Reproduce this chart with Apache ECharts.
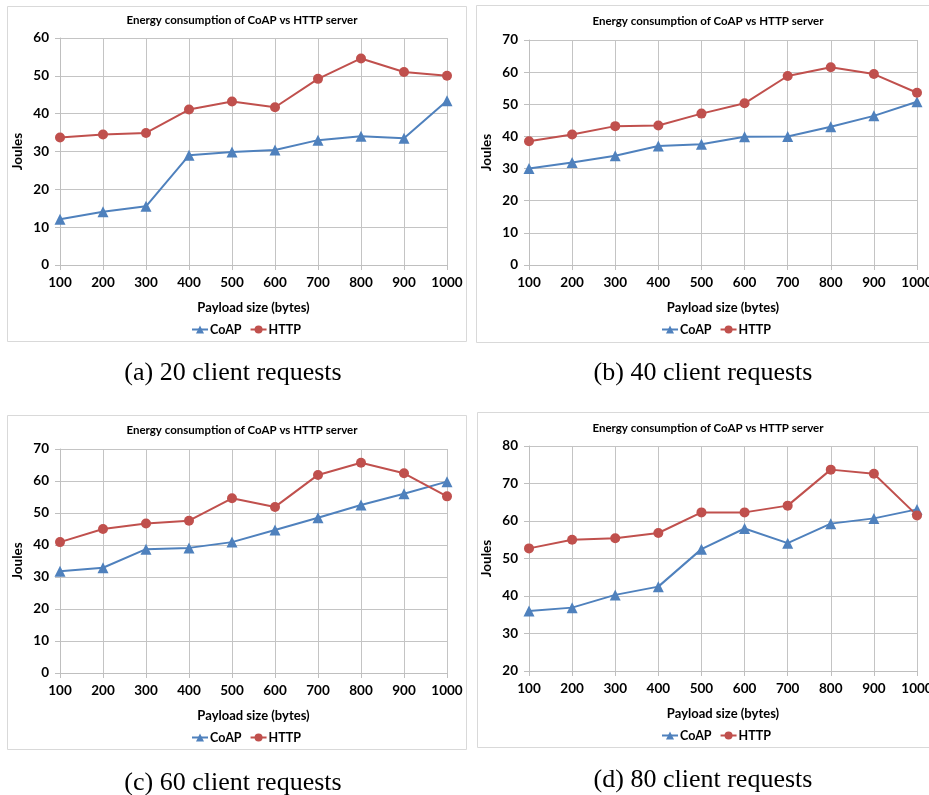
<!DOCTYPE html>
<html>
<head>
<meta charset="utf-8">
<script src="https://cdn.jsdelivr.net/npm/echarts@6/dist/echarts.min.js"></script>
<style>
html,body{margin:0;padding:0;background:#fff;}
#c{width:929px;height:795px;}
</style>
</head>
<body>
<div id="c"></div>
<script>
const categories = ['100','200','300','400','500','600','700','800','900','1000'];
const coapA = [12.1, 14.1, 15.5, 29.0, 29.9, 30.4, 33.0, 34.0, 33.5, 43.4];
const httpA = [33.7, 34.5, 34.9, 41.1, 43.2, 41.7, 49.2, 54.6, 51.0, 50.0];
const coapB = [30.0, 31.9, 34.0, 37.0, 37.6, 39.9, 40.0, 43.0, 46.4, 50.8];
const httpB = [38.5, 40.6, 43.2, 43.4, 47.1, 50.3, 58.8, 61.5, 59.4, 53.6];
const coapC = [31.8, 32.9, 38.7, 39.1, 40.9, 44.7, 48.5, 52.5, 56.0, 59.8];
const httpC = [40.9, 45.0, 46.7, 47.6, 54.6, 51.9, 61.9, 65.7, 62.4, 55.2];
const coapD = [36.0, 36.9, 40.3, 42.5, 52.5, 58.0, 54.1, 59.3, 60.7, 63.1];
const httpD = [52.7, 55.0, 55.4, 56.8, 62.3, 62.3, 64.1, 73.7, 72.6, 61.5];
const yMins = [0, 0, 0, 20];
const yMaxs = [60, 70, 70, 80];
const chartTitle = 'Energy consumption of CoAP vs HTTP server';
const xName = 'Payload size (bytes)';
const yName = 'Joules';
const seriesNames = ['CoAP', 'HTTP'];
const captions = ['(a) 20 client requests', '(b) 40 client requests', '(c) 60 client requests', '(d) 80 client requests'];

const coapData = [coapA, coapB, coapC, coapD];
const httpData = [httpA, httpB, httpC, httpD];

const FONT = 'Lato';
const BLUE = '#4F81BD';
const RED = '#C0504D';

const layout = [
  {box:[7,6,459,335], grid:{left:60, top:38, width:387, height:227}, titleX:237, titleY:9, legendY:318, legendX:186, capX:233, capY:373},
  {box:[476,5,460,337], grid:{left:529, top:40, width:388, height:225}, titleX:703, titleY:10, legendY:318, legendX:656, capX:703, capY:373},
  {box:[7,415,459,334], grid:{left:60, top:449, width:387, height:224}, titleX:237, titleY:419, legendY:726, legendX:186, capX:233, capY:783},
  {box:[477,412,459,335], grid:{left:529, top:446, width:388, height:225}, titleX:703, titleY:417, legendY:724, legendX:656, capX:703, capY:780}
];

const grids = [], xAxes = [], yAxes = [], series = [], titles = [], legends = [], graphics = [];

layout.forEach((L, i) => {
  graphics.push({
    type:'rect', z:-1, silent:true,
    shape:{x:L.box[0]+0.5, y:L.box[1]+0.5, width:L.box[2], height:L.box[3]},
    style:{fill:'#fff', stroke:'#d9d9d9', lineWidth:1}
  });
  graphics.push({
    type:'text', silent:true,
    style:{x:L.capX, y:L.capY, text:captions[i], fill:'#000', font:'26px "Liberation Serif"', align:'center', verticalAlign:'middle'}
  });
  grids.push(Object.assign({containLabel:false, outerBoundsMode:'none'}, L.grid));
  titles.push({
    text: chartTitle, left: L.titleX, top: L.titleY, textAlign:'center',
    textStyle:{fontFamily:FONT, fontSize:11.5, fontWeight:'bold', color:'#000'}
  });
  legends.push({
    data: seriesNames, left: L.legendX, top: L.legendY,
    orient:'horizontal', itemWidth:16, itemHeight:10, itemGap:8,
    textStyle:{fontFamily:FONT, fontSize:12.5, fontWeight:'bold', color:'#000', padding:[0,0,0,-3]}
  });
  xAxes.push({
    type:'category', gridIndex:i, data:categories, boundaryGap:false,
    name:xName, nameLocation:'middle', nameGap:36,
    nameTextStyle:{fontFamily:FONT, fontSize:13, fontWeight:'bold', color:'#000'},
    axisLine:{show:true, lineStyle:{color:'#bfbfbf', width:1}},
    axisTick:{show:true, alignWithLabel:true, length:5, lineStyle:{color:'#bfbfbf'}},
    axisLabel:{fontFamily:FONT, fontSize:13.5, fontWeight:'bold', color:'#000', margin:11, interval:0},
    splitLine:{show:true, lineStyle:{color:'#c4c4c4', width:1}}
  });
  yAxes.push({
    type:'value', gridIndex:i, min:yMins[i], max:yMaxs[i], interval:10,
    name:yName, nameLocation:'middle', nameGap:35, nameRotate:90,
    nameTextStyle:{fontFamily:FONT, fontSize:13.5, fontWeight:'bold', color:'#000'},
    axisLine:{show:true, lineStyle:{color:'#bfbfbf', width:1}},
    axisTick:{show:true, length:5, lineStyle:{color:'#bfbfbf'}},
    axisLabel:{fontFamily:FONT, fontSize:13.5, fontWeight:'bold', color:'#000', margin:11},
    splitLine:{show:true, lineStyle:{color:'#c4c4c4', width:1}}
  });
  series.push({
    name: seriesNames[0], type:'line', xAxisIndex:i, yAxisIndex:i, data: coapData[i],
    symbol:'triangle', symbolSize:11, lineStyle:{color:BLUE, width:2},
    itemStyle:{color:BLUE}, animation:false
  });
  series.push({
    name: seriesNames[1], type:'line', xAxisIndex:i, yAxisIndex:i, data: httpData[i],
    symbol:'circle', symbolSize:10, lineStyle:{color:RED, width:2},
    itemStyle:{color:RED}, animation:false
  });
});

const chart = echarts.init(document.getElementById('c'));
chart.setOption({
  backgroundColor:'#fff',
  animation:false,
  title: titles,
  legend: legends,
  grid: grids,
  xAxis: xAxes,
  yAxis: yAxes,
  series: series,
  graphic: graphics
});
</script>
</body>
</html>
